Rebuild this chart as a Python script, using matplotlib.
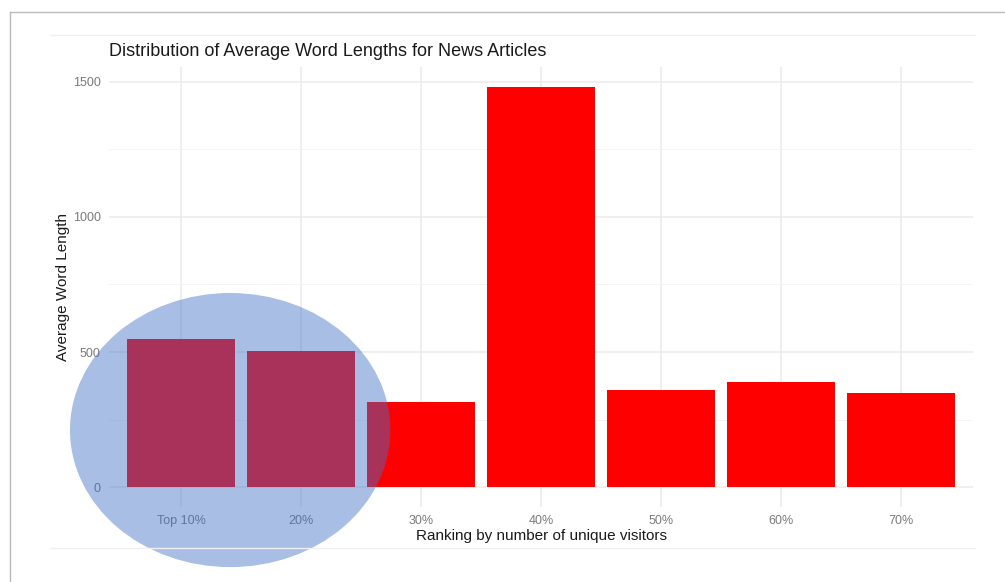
import numpy as np
import matplotlib
matplotlib.use("Agg")
import matplotlib.pyplot as plt
from matplotlib.patches import Ellipse
from matplotlib.lines import Line2D

plt.rcParams['font.family'] = ['Liberation Sans', 'DejaVu Sans']

# data
categories = ["Top 10%", "20%", "30%", "40%", "50%", "60%", "70%"]
avg_length = [550, 505, 314, 1480, 359, 388, 348]
y_ticks = [0, 500, 1000, 1500]

W, H = 1005, 582
fig = plt.figure(figsize=(W / 100, H / 100), dpi=100)
ax = fig.add_axes([109 / W, 1 - 507 / H, (973 - 109) / W, (507 - 67.4) / H])

x = np.arange(len(categories))
ax.bar(x, avg_length, width=0.9, color="#ff0000", zorder=2)

ax.set_xlim(-0.6, len(categories) - 0.4)
ax.set_ylim(-74, 1554)
ax.set_xticks(x)
ax.set_xticklabels(categories)
ax.set_yticks(y_ticks)
ax.set_yticks([250, 750, 1250], minor=True)
ax.grid(which="major", color="#ebebeb", linewidth=1.1, zorder=0)
ax.grid(which="minor", axis="y", color="#f2f2f2", linewidth=0.6, zorder=0)
ax.set_axisbelow(True)
for s in ax.spines.values():
    s.set_visible(False)
ax.tick_params(which="both", length=0, colors="#7a7a7a", labelsize=9, pad=6)
ax.tick_params(axis="y", pad=6)

ax.set_title("Distribution of Average Word Lengths for News Articles",
             loc="left", fontsize=13, color="#1a1a1a", pad=8, x=0.0)
ax.set_xlabel("Ranking by number of unique visitors", fontsize=11, color="#1a1a1a", labelpad=1)
ax.set_ylabel("Average Word Length", fontsize=11, color="#1a1a1a", labelpad=2)

# highlight ellipse over the first two bars
ell = Ellipse((0.41, 211), width=2.67, height=1015, facecolor="#4070c4",
              alpha=0.455, edgecolor="none", zorder=5, clip_on=False)
ax.add_patch(ell)

# frame of the screenshot
fig.add_artist(Line2D([10 / W, 10 / W], [0, 1 - 12 / H], color="#bbbbbb", lw=1))
fig.add_artist(Line2D([10 / W, 1], [1 - 12 / H, 1 - 12 / H], color="#bbbbbb", lw=1))
fig.add_artist(Line2D([50 / W, 975 / W], [1 - 35 / H, 1 - 35 / H], color="#f0f0f0", lw=1))
fig.add_artist(Line2D([50 / W, 975 / W], [1 - 548 / H, 1 - 548 / H], color="#f0f0f0", lw=1))

fig.savefig("out.png", dpi=100)
